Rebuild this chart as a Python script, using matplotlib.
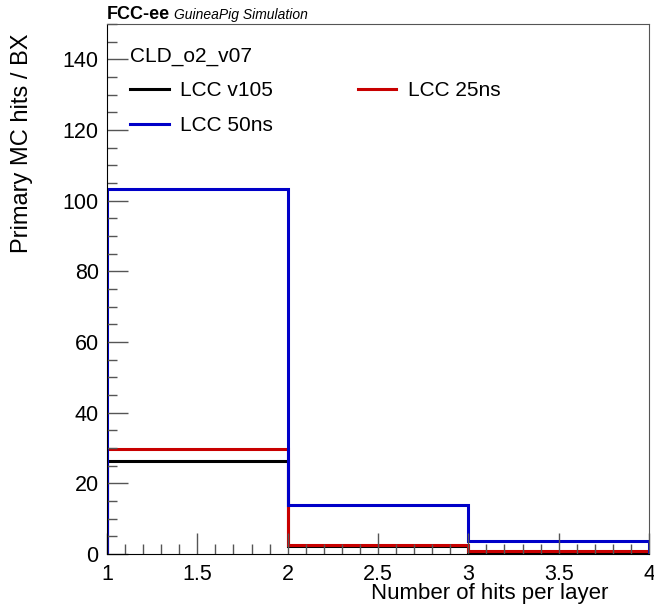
import numpy as np
import matplotlib
matplotlib.use("Agg")
import matplotlib.pyplot as plt
from matplotlib.ticker import MultipleLocator, FormatStrFormatter

plt.rcParams['font.family'] = ['Liberation Sans', 'DejaVu Sans']

# histogram content (bins: 1-2, 2-3, 3-4 hits per layer)
bin_edges = [1, 2, 3, 4]
lcc_v105 = [26.4, 2.3, 0.5]
lcc_25ns = [29.8, 2.6, 0.9]
lcc_50ns = [103.3, 13.8, 3.7]

series_labels = ["LCC v105", "LCC 25ns", "LCC 50ns"]
series_colors = ["black", "#c80000", "#0000c8"]

fig = plt.figure(figsize=(6.54, 6.15), dpi=100)
ax = fig.add_axes([107 / 654, 1 - 554 / 615, 542 / 654, 530 / 615])

handles = []
for vals, lab, col in zip([lcc_v105, lcc_25ns, lcc_50ns], series_labels, series_colors):
    ax.stairs(vals, bin_edges, baseline=0, color=col, linewidth=2.2, label=lab)
    handles.append(plt.Line2D([], [], color=col, linewidth=2.2))

ax.set_xlim(1, 4)
ax.set_ylim(0, 150)

ax.xaxis.set_major_locator(MultipleLocator(0.5))
ax.xaxis.set_minor_locator(MultipleLocator(0.1))
ax.xaxis.set_major_formatter(FormatStrFormatter('%g'))
ax.yaxis.set_major_locator(MultipleLocator(20))
ax.yaxis.set_minor_locator(MultipleLocator(5))
ax.tick_params(which='both', direction='in', top=False, right=False,
               color='#555555', labelsize=15.5)
ax.tick_params(which='major', length=15, width=1)
ax.tick_params(which='minor', length=7.5, width=1)
ax.tick_params(axis='x', pad=7)
ax.tick_params(axis='y', pad=6)

for side in ['top', 'right']:
    ax.spines[side].set_color('#555555')
for side in ['left', 'bottom']:
    ax.spines[side].set_color('black')

ax.set_xlabel("Number of hits per layer", fontsize=16, loc='right')
ax.xaxis.label.set_va('baseline')
ax.xaxis.set_label_coords((608 - 107) / 542, -(599 - 554) / 530)
ax.set_ylabel("Primary MC hits / BX", fontsize=17, loc='top')
ax.yaxis.set_label_coords(-(107 - 33) / 542, 0.983)

# legend: row 1 v105 / 25ns, row 2 50ns
leg = ax.legend([handles[0], handles[2], handles[1]],
                [series_labels[0], series_labels[2], series_labels[1]],
                ncol=2, title="CLD_o2_v07", title_fontsize=15, fontsize=15,
                alignment='left', frameon=False, loc='upper left',
                bbox_to_anchor=(120 / 654, 1 - 36 / 615), bbox_transform=fig.transFigure,
                borderpad=0, handlelength=1.85, handletextpad=0.55,
                columnspacing=4.05, labelspacing=0.75)

fig.text(107 / 654, 1 - 19 / 615, "FCC-ee", fontsize=13, fontweight='bold',
         va='baseline', ha='left')
fig.text(174 / 654, 1 - 19 / 615, "GuineaPig Simulation", fontsize=10,
         style='italic', va='baseline', ha='left')

fig.savefig("out.png", dpi=100)
